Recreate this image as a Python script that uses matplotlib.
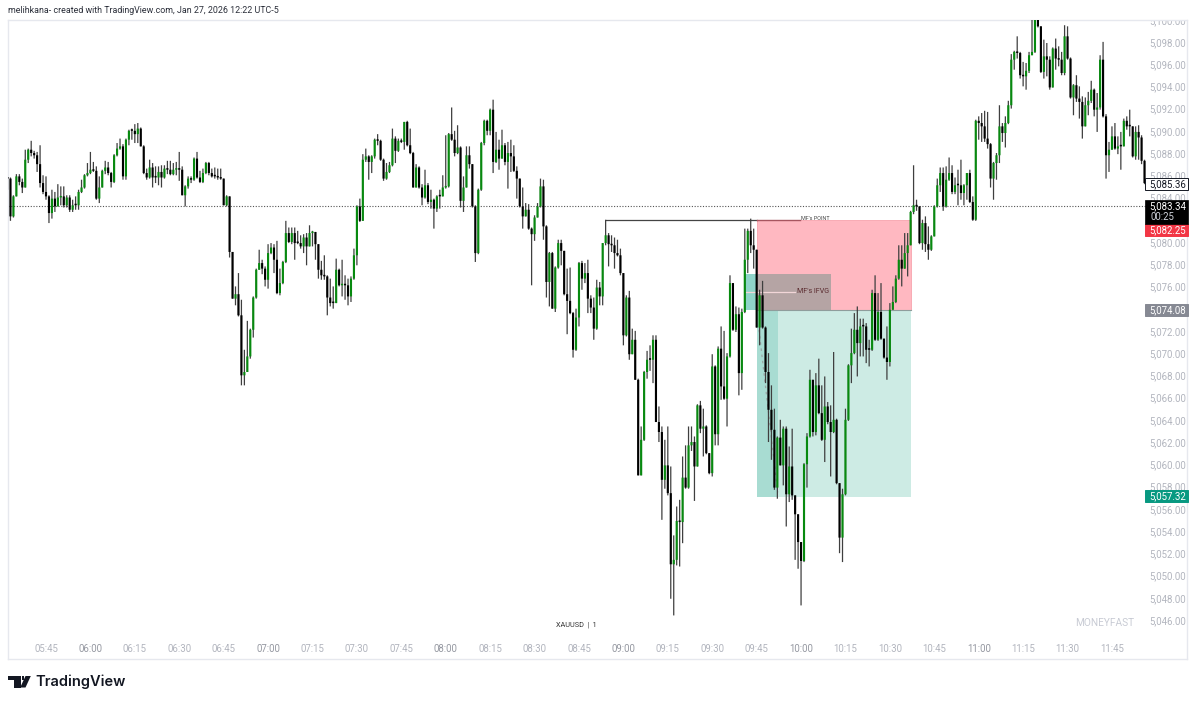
# LIBRARIES
import matplotlib
matplotlib.use("Agg")
import matplotlib.pyplot as plt
from matplotlib.patches import Rectangle, Polygon
import numpy as np

# DATA
# One candle per minute, minutes counted from 05:45 (first candle 05:32)
firstMinute = -13
firstOpen = 5085.8

closes = [
    5085.8, 5082.4, 5084.2, 5086.0, 5085.5, 5085.0, 5087.5, 5088.4, 5088.1, 5087.9, 5087.1, 5085.4, 5084.6, 5084.2,
    5082.7, 5084.0, 5083.3, 5084.1, 5084.2, 5083.4, 5084.1, 5083.0, 5083.4, 5083.4,
    5084.6, 5085.0, 5086.1, 5086.3, 5086.6, 5086.5, 5084.0, 5085.0, 5086.5, 5086.8,
    5086.3, 5085.5, 5087.9, 5088.5, 5088.7, 5086.0, 5089.3, 5090.1, 5090.1, 5089.8,
    5090.3, 5088.7, 5086.3, 5085.9, 5086.8, 5085.9, 5085.9, 5086.4, 5085.9, 5086.7,
    5086.6, 5086.2, 5086.6, 5086.7, 5086.6, 5084.3, 5085.1, 5085.8, 5085.7, 5087.6,
    5085.9, 5085.5, 5086.3, 5087.2, 5086.3, 5086.0, 5086.0, 5085.9, 5085.8, 5083.4,
    5084.2, 5079.2, 5075.0, 5075.4, 5073.5, 5068.1, 5068.4, 5069.8, 5072.2, 5075.1,
    5077.6, 5078.2, 5077.7, 5076.7, 5079.1, 5079.6, 5078.5, 5075.5, 5076.4, 5078.3,
    5080.9, 5080.1, 5080.9, 5080.0, 5080.0, 5079.7, 5080.5, 5079.7, 5080.9, 5081.0,
    5079.9, 5077.6, 5077.1, 5077.0, 5075.1, 5074.6, 5074.6, 5077.6, 5076.2, 5076.3,
    5076.2, 5075.2, 5076.8, 5078.9, 5083.3, 5082.0, 5087.5, 5087.8, 5087.3, 5087.8,
    5089.3, 5089.2, 5087.5, 5085.8, 5086.4, 5087.0, 5089.4, 5088.3, 5089.2, 5089.1,
    5090.9, 5088.8, 5088.1, 5085.0, 5086.8, 5085.0, 5084.1, 5085.2, 5083.7, 5083.9,
    5083.1, 5084.2, 5084.2, 5085.0, 5085.1, 5089.8, 5089.3, 5088.1, 5088.6, 5083.8,
    5085.0, 5087.9, 5087.1, 5083.3, 5079.1, 5084.8, 5089.0, 5091.0, 5090.1, 5092.0,
    5087.3, 5088.4, 5087.6, 5088.8, 5087.3, 5088.1, 5087.8, 5086.5, 5085.8, 5083.3,
    5082.4, 5083.0, 5081.3, 5080.8, 5082.3, 5083.3, 5085.1, 5081.5, 5076.5, 5079.1,
    5074.1, 5077.8, 5080.0, 5079.3, 5075.4, 5074.8, 5073.7, 5070.4, 5073.3, 5078.2,
    5076.8, 5077.3, 5075.0, 5074.2, 5072.3, 5076.0, 5075.2, 5080.0, 5080.7, 5079.9,
    5079.8, 5079.1, 5078.9, 5077.3, 5071.7, 5075.1, 5070.0, 5071.3, 5067.7, 5059.1,
    5062.3, 5068.4, 5069.5, 5069.5, 5071.3, 5063.9, 5063.0, 5058.7, 5060.0, 5057.5,
    5051.1, 5051.5, 5055.0, 5054.9, 5058.9, 5058.0, 5061.8, 5062.1, 5059.9, 5065.4,
    5063.3, 5063.5, 5061.1, 5059.3, 5068.9, 5062.8, 5070.5, 5067.1, 5066.0, 5069.8,
    5076.4, 5072.2, 5073.6, 5068.3, 5073.8, 5078.5, 5081.1, 5079.8, 5079.4, 5072.4,
    5075.3, 5072.4, 5068.4, 5065.0, 5063.2, 5058.0, 5062.5, 5060.0, 5063.3, 5057.4,
    5059.9, 5057.3, 5055.6, 5053.1, 5051.4, 5060.1, 5062.6, 5067.7, 5063.0, 5067.2,
    5064.7, 5062.3, 5065.3, 5063.9, 5063.0, 5064.1, 5058.4, 5053.5, 5057.4, 5064.1,
    5069.0, 5070.1, 5072.2, 5071.0, 5072.5, 5072.5, 5070.4, 5070.4, 5075.5, 5071.3,
    5073.8, 5071.4, 5069.7, 5069.3, 5074.0, 5074.7, 5076.8, 5078.5, 5077.7, 5079.1,
    5079.8, 5082.8, 5083.4, 5083.3, 5080.0, 5081.8, 5079.9, 5079.4, 5080.6, 5083.3,
    5085.2, 5086.3, 5083.3, 5085.7, 5086.3, 5084.6, 5085.2, 5085.2, 5084.5, 5085.2,
    5086.3, 5083.7, 5082.1, 5091.0, 5090.8, 5090.5, 5089.4, 5088.9, 5085.8, 5087.2,
    5087.9, 5090.5, 5089.9, 5090.8, 5092.4, 5096.5, 5097.2, 5097.1, 5095.1, 5095.0,
    5095.5, 5096.9, 5097.2, 5100.1, 5099.5, 5095.4, 5096.8, 5096.5, 5094.0, 5097.5,
    5096.6, 5096.5, 5095.3, 5098.6, 5096.6, 5093.1, 5094.2, 5093.0, 5092.7, 5090.5,
    5092.4, 5092.8, 5093.8, 5092.0, 5092.2, 5096.5, 5091.4, 5087.9, 5088.4, 5089.6,
    5088.5, 5088.7, 5088.7, 5091.0, 5090.5, 5090.5, 5087.8, 5090.0, 5089.5, 5087.4,
    5085.4,
]

highs = [
    5085.9, 5085.9, 5084.3, 5086.2, 5086.2, 5085.8, 5088.4, 5088.5, 5089.2, 5088.3, 5088.2, 5088.8, 5086.1, 5086.0,
    5084.3, 5084.8, 5084.6, 5085.3, 5085.1, 5085.1, 5084.3, 5084.3, 5083.9, 5084.2,
    5084.8, 5085.7, 5086.2, 5087.2, 5088.2, 5087.3, 5086.9, 5086.0, 5086.6, 5087.4,
    5087.3, 5086.4, 5088.0, 5089.0, 5089.4, 5088.9, 5089.4, 5090.2, 5090.3, 5090.7,
    5090.8, 5090.4, 5088.8, 5086.7, 5087.5, 5087.2, 5086.9, 5086.9, 5087.0, 5087.0,
    5087.4, 5087.4, 5087.2, 5087.3, 5088.2, 5086.9, 5085.2, 5086.0, 5086.0, 5087.7,
    5088.2, 5086.5, 5086.7, 5087.3, 5087.3, 5086.7, 5086.8, 5086.7, 5086.7, 5085.8,
    5084.3, 5084.2, 5079.2, 5076.1, 5077.3, 5074.9, 5070.4, 5073.0, 5072.3, 5075.2,
    5077.7, 5079.4, 5078.5, 5077.9, 5079.9, 5080.0, 5079.9, 5080.2, 5077.7, 5078.4,
    5082.0, 5081.4, 5081.4, 5081.4, 5081.1, 5080.7, 5080.8, 5080.9, 5081.6, 5081.1,
    5081.0, 5079.9, 5078.4, 5078.9, 5077.1, 5076.8, 5076.1, 5078.6, 5077.7, 5078.5,
    5077.1, 5076.8, 5077.0, 5079.5, 5083.4, 5084.0, 5088.0, 5088.5, 5087.9, 5087.9,
    5089.4, 5089.8, 5089.3, 5087.6, 5087.2, 5087.3, 5090.3, 5089.6, 5089.4, 5089.4,
    5090.9, 5091.0, 5090.3, 5088.2, 5087.1, 5086.9, 5085.3, 5086.6, 5085.4, 5084.8,
    5084.0, 5084.3, 5084.8, 5086.1, 5089.7, 5089.9, 5092.2, 5090.1, 5090.6, 5088.7,
    5086.0, 5088.7, 5088.7, 5087.1, 5083.4, 5084.9, 5089.1, 5091.1, 5091.1, 5092.1,
    5092.9, 5090.0, 5089.3, 5090.2, 5089.0, 5089.1, 5089.3, 5088.8, 5086.9, 5085.8,
    5085.0, 5083.6, 5083.5, 5081.4, 5082.5, 5083.6, 5085.8, 5085.7, 5081.6, 5079.2,
    5079.2, 5077.9, 5080.3, 5080.3, 5079.3, 5077.7, 5077.8, 5073.8, 5074.1, 5078.3,
    5078.4, 5078.2, 5078.5, 5075.3, 5075.1, 5076.7, 5076.5, 5080.0, 5082.1, 5080.9,
    5080.7, 5080.5, 5080.3, 5079.5, 5077.3, 5075.3, 5075.7, 5072.3, 5072.1, 5067.8,
    5063.5, 5068.5, 5070.3, 5070.8, 5071.7, 5071.7, 5065.3, 5063.5, 5062.3, 5063.5,
    5059.9, 5053.7, 5056.3, 5056.9, 5060.8, 5061.8, 5063.5, 5063.5, 5062.6, 5065.5,
    5065.8, 5065.1, 5063.6, 5061.1, 5070.0, 5069.0, 5070.7, 5072.5, 5072.1, 5070.1,
    5077.1, 5076.4, 5074.3, 5074.2, 5074.1, 5081.3, 5081.3, 5082.2, 5081.3, 5079.4,
    5075.8, 5076.6, 5072.5, 5070.1, 5067.2, 5065.1, 5062.6, 5064.1, 5063.5, 5063.5,
    5061.7, 5063.3, 5057.3, 5055.6, 5053.1, 5060.2, 5062.9, 5068.6, 5067.7, 5068.3,
    5069.6, 5067.2, 5068.0, 5065.7, 5065.4, 5070.2, 5064.2, 5058.4, 5057.9, 5065.1,
    5069.1, 5072.3, 5073.7, 5074.3, 5073.2, 5073.2, 5072.8, 5071.3, 5075.8, 5077.1,
    5075.5, 5076.4, 5071.4, 5072.5, 5074.6, 5076.1, 5077.1, 5079.8, 5079.8, 5080.9,
    5080.9, 5082.9, 5087.0, 5083.9, 5083.3, 5082.1, 5082.4, 5081.5, 5080.7, 5083.4,
    5085.8, 5086.8, 5086.8, 5086.9, 5087.7, 5087.0, 5085.9, 5086.6, 5087.5, 5085.3,
    5086.3, 5086.6, 5084.2, 5091.1, 5091.4, 5091.7, 5091.9, 5091.8, 5089.0, 5087.3,
    5088.1, 5092.4, 5090.8, 5091.4, 5092.8, 5097.0, 5097.3, 5098.6, 5097.2, 5096.3,
    5096.2, 5097.2, 5100.1, 5100.2, 5100.1, 5099.5, 5098.3, 5098.0, 5096.8, 5097.6,
    5098.4, 5097.7, 5097.2, 5099.6, 5099.5, 5096.7, 5094.3, 5095.1, 5094.1, 5093.2,
    5093.1, 5093.6, 5094.6, 5093.9, 5093.5, 5096.9, 5098.1, 5091.6, 5089.1, 5090.5,
    5090.8, 5089.6, 5090.0, 5091.2, 5091.4, 5092.0, 5090.5, 5090.5, 5090.6, 5089.7,
    5087.5,
]

lows = [
    5084.8, 5082.0, 5082.3, 5084.2, 5085.2, 5084.5, 5085.0, 5087.2, 5087.8, 5087.6, 5086.4, 5085.0, 5084.4, 5083.9,
    5081.8, 5082.2, 5082.8, 5083.3, 5083.4, 5083.2, 5083.2, 5082.8, 5082.8, 5083.0,
    5083.0, 5084.5, 5084.9, 5086.0, 5086.2, 5086.4, 5083.9, 5083.6, 5085.0, 5086.2,
    5086.1, 5085.0, 5085.4, 5087.8, 5088.4, 5085.7, 5085.7, 5088.8, 5089.3, 5089.0,
    5089.0, 5088.7, 5086.2, 5085.7, 5085.8, 5085.0, 5085.4, 5085.2, 5085.0, 5085.8,
    5086.2, 5086.1, 5086.1, 5086.1, 5085.6, 5084.3, 5083.3, 5084.9, 5085.4, 5085.6,
    5085.8, 5085.4, 5085.4, 5086.2, 5086.1, 5085.9, 5085.8, 5085.7, 5085.7, 5083.4,
    5083.3, 5078.7, 5075.0, 5074.4, 5073.4, 5067.2, 5067.2, 5068.4, 5069.6, 5071.5,
    5075.0, 5077.6, 5077.2, 5076.1, 5075.9, 5079.0, 5077.3, 5075.4, 5075.3, 5076.3,
    5078.2, 5080.0, 5079.9, 5078.5, 5079.9, 5079.5, 5079.1, 5078.0, 5079.7, 5079.7,
    5078.5, 5076.8, 5076.7, 5076.7, 5073.5, 5074.3, 5074.1, 5074.6, 5076.1, 5075.2,
    5074.9, 5074.4, 5074.7, 5076.7, 5078.0, 5081.9, 5082.0, 5087.3, 5085.7, 5086.3,
    5087.6, 5088.8, 5087.4, 5085.6, 5085.7, 5086.3, 5086.9, 5087.2, 5088.2, 5089.0,
    5088.4, 5088.7, 5088.0, 5085.0, 5085.0, 5084.9, 5083.4, 5084.0, 5083.5, 5083.1,
    5081.3, 5082.8, 5083.1, 5084.2, 5084.9, 5085.0, 5089.2, 5087.8, 5088.0, 5083.2,
    5082.8, 5085.0, 5086.7, 5083.2, 5078.3, 5079.0, 5084.7, 5088.8, 5089.7, 5089.7,
    5086.3, 5087.2, 5086.6, 5087.6, 5087.0, 5084.9, 5086.4, 5086.4, 5084.0, 5083.2,
    5081.3, 5082.4, 5081.2, 5076.2, 5080.2, 5082.3, 5083.2, 5080.3, 5075.1, 5074.3,
    5074.1, 5073.8, 5077.7, 5078.0, 5075.3, 5071.8, 5073.6, 5069.7, 5070.3, 5072.5,
    5075.8, 5076.4, 5073.7, 5073.7, 5071.3, 5072.2, 5074.4, 5074.4, 5079.8, 5077.9,
    5079.2, 5077.7, 5078.8, 5077.1, 5070.8, 5071.6, 5069.5, 5070.0, 5067.7, 5059.1,
    5059.1, 5062.2, 5067.8, 5068.5, 5067.4, 5063.9, 5062.1, 5055.1, 5057.9, 5057.3,
    5048.0, 5046.5, 5051.0, 5050.9, 5053.0, 5057.9, 5057.9, 5061.3, 5056.8, 5059.9,
    5062.9, 5060.8, 5061.0, 5059.2, 5059.0, 5061.8, 5061.8, 5065.9, 5065.9, 5063.5,
    5069.7, 5072.1, 5072.0, 5066.3, 5066.8, 5073.7, 5077.3, 5079.1, 5077.7, 5072.4,
    5070.8, 5072.3, 5067.4, 5062.1, 5060.5, 5057.8, 5057.0, 5060.0, 5058.2, 5054.5,
    5056.7, 5056.9, 5051.5, 5050.7, 5047.4, 5051.3, 5058.0, 5062.5, 5062.6, 5062.7,
    5064.6, 5062.2, 5060.3, 5063.7, 5059.0, 5062.9, 5058.3, 5052.1, 5051.3, 5057.3,
    5064.0, 5067.4, 5070.0, 5068.0, 5069.8, 5069.8, 5069.2, 5068.9, 5070.3, 5071.2,
    5071.2, 5071.3, 5069.6, 5067.7, 5068.9, 5074.0, 5074.6, 5076.7, 5076.1, 5077.7,
    5077.0, 5079.8, 5082.6, 5082.9, 5079.9, 5079.4, 5079.2, 5078.5, 5079.3, 5080.6,
    5083.2, 5084.6, 5082.9, 5083.2, 5085.6, 5084.4, 5084.4, 5083.4, 5083.9, 5083.4,
    5083.9, 5083.6, 5082.0, 5082.0, 5089.3, 5089.1, 5089.1, 5088.5, 5085.0, 5083.9,
    5085.7, 5087.2, 5089.1, 5088.6, 5090.7, 5092.1, 5095.6, 5096.6, 5094.8, 5094.1,
    5093.8, 5095.3, 5096.9, 5097.1, 5099.4, 5095.3, 5094.8, 5095.0, 5093.8, 5094.0,
    5095.6, 5095.9, 5095.1, 5095.1, 5096.5, 5093.0, 5091.5, 5092.7, 5091.2, 5089.4,
    5090.5, 5091.5, 5092.6, 5091.4, 5090.0, 5092.0, 5091.3, 5085.8, 5086.4, 5088.4,
    5088.4, 5088.0, 5086.6, 5088.7, 5090.2, 5089.6, 5087.7, 5087.5, 5087.5, 5087.1,
    5085.3,
]

# Axis ticks (5,082 and 5,074 sit fully under the price tags)
timeLabels = ['05:45', '06:00', '06:15', '06:30', '06:45', '07:00', '07:15', '07:30', '07:45', '08:00', '08:15',
              '08:30', '08:45', '09:00', '09:15', '09:30', '09:45', '10:00', '10:15', '10:30', '10:45', '11:00',
              '11:15', '11:30', '11:45']
priceTicks = [p for p in range(5046, 5102, 2) if p not in (5082, 5074)]

# Price tags on the scale: value, where the tag sits, text color, box color, border color
lastPrice = 5083.34
tagValues = [5085.36, 5082.25, 5074.08, 5057.32]
tagCenters = [5085.3, 5081.2, 5074.0, 5057.25]
tagText = ['#131722', 'white', 'white', 'white']
tagFill = ['white', '#f23645', '#868993', '#089981']
tagEdge = ['#131722', '#f23645', '#868993', '#089981']

# Position drawing levels
targetPrice, entryPrice, stopPrice = 5082.1, 5074.0, 5057.17
positionStart, positionEnd = 240.1, 292.1
ifvgTop, ifvgBottom = 5077.2, 5074.0
ifvgStart, ifvgEnd = 235.7, 265.1
pointStart = 189

# Colors
greenBody = '#078a0f'
blackBody = '#000000'
labelGrey = '#b2b5be'


# INITIALIZE GRAPH
fig = plt.figure(figsize=(12, 7.04), dpi=100, facecolor='white')
plt.rcParams['font.family'] = ['Roboto', 'DejaVu Sans']
ax = fig.add_axes([8 / 1200, 1 - 659 / 704, 1179 / 1200, 639 / 704])
ax.set_xlim((8 - 46) / 2.961, (1187 - 46) / 2.961)
ax.set_ylim(5098 - (659 - 43) / 11.115, 5098 + (43 - 20) / 11.115)
ax.set_xticks([])
ax.set_yticks([])
for spine in ax.spines.values():
    spine.set_color('#e6e8ee')
    spine.set_linewidth(1.0)

# Full figure overlay in pixels for the header and logo
overlay = fig.add_axes([0, 0, 1, 1], facecolor='none')
overlay.set_xlim(0, 1200)
overlay.set_ylim(704, 0)
overlay.axis('off')


# FUNCTIONS
# Draw position boxes and the IFVG zone
def drawZones():
    ax.add_patch(Rectangle((positionStart, entryPrice), positionEnd - positionStart, targetPrice - entryPrice,
                           fc='#ffb8c1', ec='#f7a3ad', lw=0.6, zorder=1))
    ax.add_patch(Rectangle((positionStart, stopPrice), positionEnd - positionStart, entryPrice - stopPrice,
                           fc='#cdebe4', ec='none', zorder=1))
    ax.add_patch(Rectangle((positionStart, stopPrice), 7.1, entryPrice - stopPrice, fc='#a8dcd2', ec='none', zorder=1.1))
    ax.add_patch(Rectangle((ifvgStart, ifvgBottom), positionStart - ifvgStart, ifvgTop - ifvgBottom,
                           fc='#8fd4c9', ec='none', zorder=1.1))
    ax.add_patch(Rectangle((positionStart, ifvgBottom), ifvgEnd - positionStart, ifvgTop - ifvgBottom,
                           fc='#b5a4a4', ec='none', zorder=1.1))
    ax.plot([positionStart, positionEnd], [entryPrice, entryPrice], color='#8f9d9c', lw=0.8, zorder=1.2)
    # Faint line to the IFVG label
    ifvgMiddle = (ifvgTop + ifvgBottom) / 2
    ax.plot([ifvgStart, 253], [ifvgMiddle, ifvgMiddle], color='#f2d6d8', lw=0.9, zorder=1.2)
    ax.text(253.5, ifvgMiddle, "MF's IFVG", fontsize=5.1, color='#5a2a2e', va='center', ha='left', zorder=5)
    # Dashed trade path
    ax.plot([positionStart + 0.7, positionStart + 7], [entryPrice - 1.8, stopPrice + 0.4], color='#9aa6a4',
            lw=0.9, ls=(0, (2, 3)), zorder=1.3)
    # Point line with its label
    ax.plot([pointStart, positionStart], [targetPrice, targetPrice], color='#444444', lw=0.9, zorder=1.4)
    ax.plot([positionStart, 254.5], [targetPrice, targetPrice], color='#a85560', lw=1.0, zorder=1.4)
    ax.text(255, targetPrice + 0.1, "MF's POINT", fontsize=3.9, color='#444444', va='center', ha='left', zorder=5)


# Draw candles from the price lists
def drawCandles():
    minutes = firstMinute + np.arange(len(closes))
    closeValues = np.array(closes)
    opens = np.concatenate(([firstOpen], closeValues[:-1]))
    colors = [greenBody if c > o else blackBody for o, c in zip(opens, closeValues)]
    wicks = ax.vlines(minutes, lows, highs, color='#3f3f3f', lw=0.9, zorder=3)
    wicks.set_snap(False)
    bottoms = np.minimum(opens, closeValues)
    heights = np.maximum(np.abs(closeValues - opens), 0.14)
    bars = ax.bar(minutes, heights, bottom=bottoms, width=0.72, color=colors, lw=0, zorder=4)
    # Keep every body the same width instead of snapping to whole pixels
    for bar in bars:
        bar.set_snap(False)
    return minutes


# Draw the price scale, time scale and tags
def drawScales():
    labelX = 378.9
    for price in priceTicks:
        ax.text(labelX, price, f"{price:,}.00", fontsize=6.9, color=labelGrey, ha='center', va='center',
                clip_on=True, zorder=2)
    for index, label in enumerate(timeLabels):
        isHour = label.endswith(':00')
        ax.text(index * 15, 5043.5, label, fontsize=6.9, color='#9598a1' if isHour else labelGrey,
                ha='center', va='center', zorder=2)
    ax.plot([-13, 371.5], [lastPrice, lastPrice], color='#555555', lw=0.8, ls=(0, (1, 1.5)), zorder=2)
    tagBox = (1144.5 - 46) / 2.961
    for value, center, textColor, fill, edge in zip(tagValues, tagCenters, tagText, tagFill, tagEdge):
        ax.add_patch(Rectangle((tagBox, center - 0.56), 14.7, 1.12, fc=fill, ec=edge, lw=0.7, zorder=6, clip_on=False))
        ax.text(labelX, center, f"{value:,.2f}", fontsize=6.9, color=textColor, ha='center', va='center', zorder=7)
    # Current price with countdown
    ax.add_patch(Rectangle((tagBox, 5081.75), 14.7, 2.12, fc='black', ec='black', lw=0.5, zorder=6.5, clip_on=False))
    ax.text(labelX, lastPrice, f"{lastPrice:,.2f}", fontsize=6.9, color='white', ha='center', va='center', zorder=7)
    ax.text(labelX - 6, 5082.35, "00:25", fontsize=6.9, color='#d1d4dc', ha='left', va='center', zorder=7)
    # Watermark and symbol text
    ax.text(367.4, 5045.8, "MONEYFAST", fontsize=7.3, color='#c8cbd4', ha='right', va='center', zorder=2)
    ax.text(179.1, 5045.6, "XAUUSD  |  1", fontsize=5.2, color='#333333', ha='center', va='center', zorder=2)


# Draw header text and logo
def drawBranding():
    overlay.text(8, 10.5, "melihkana- created with TradingView.com, Jan 27, 2026 12:22 UTC-5", fontsize=6.4,
                 color='#2a2e39', ha='left', va='center')
    overlay.add_patch(Polygon([(8.3, 676), (20.7, 676), (20.7, 687.5), (14, 687.5), (14, 680.3), (8.3, 680.3)],
                              fc='#131722', ec='none'))
    overlay.add_patch(Rectangle((21.5, 676), 2.8, 4.3, fc='#131722', ec='none'))
    overlay.add_patch(Polygon([(25.5, 676), (30.8, 676), (25.5, 687.5), (20.2, 687.5)], fc='#131722', ec='none'))
    overlay.text(35.5, 681.8, "TradingView", fontsize=10.5, color='#131722', ha='left', va='center',
                 family=['Inter', 'DejaVu Sans'], fontweight='semibold')


# * MAIN FUNCTION
def main():
    drawZones()
    drawCandles()
    drawScales()
    drawBranding()
    fig.savefig('out.png', dpi=100, facecolor='white')
    return


# * RUN PROGRAM
if __name__ == "__main__":
    main()
